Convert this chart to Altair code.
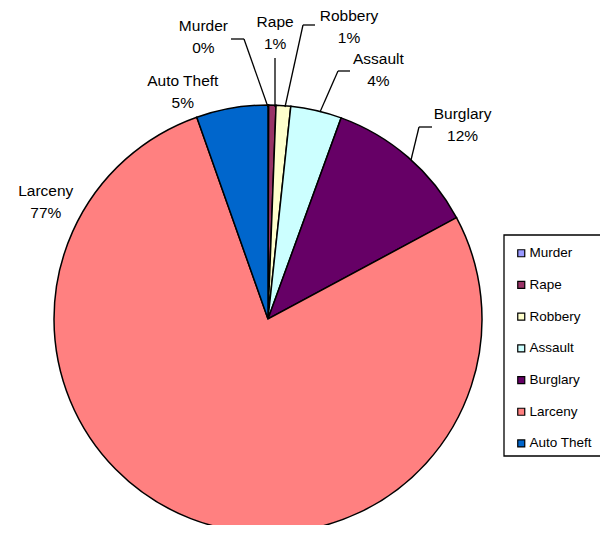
import math
import altair as alt
import pandas as pd

# ---- data ----
categories = ["Murder", "Rape", "Robbery", "Assault", "Burglary", "Larceny", "Auto Theft"]
shares = [0.05, 0.55, 1.1, 3.85, 11.6, 77.45, 5.4]
colors = ["#9999FF", "#993366", "#FFFFCC", "#CCFFFF", "#660066", "#FF8080", "#0066CC"]

total = sum(shares)
pct_labels = [f"{round(v / total * 100)}%" for v in shares]

df = pd.DataFrame({
    "crime": categories,
    "share": shares,
    "order": list(range(len(categories))),
    "pct": pct_labels,
})

# ---- layout / style constants ----
CX, CY, R = 260, 311, 214
LABEL_R = 250
FONT = "Liberation Sans"

theta_scale = alt.Scale(domain=[0, total], range=[0, 2 * math.pi])

base = alt.Chart(df).transform_window(
    cum="sum(share)", sort=[alt.SortField("order")], frame=[None, 0]
).transform_calculate(
    start="datum.cum - datum.share",
    mid="datum.cum - datum.share / 2",
    lbl="datum.crime + '\\n' + datum.pct",
)

pie = base.mark_arc(outerRadius=R, stroke="black", strokeWidth=1.5).encode(
    theta=alt.Theta("start:Q", scale=theta_scale, stack=None),
    theta2="cum:Q",
    color=alt.Color(
        "crime:N",
        scale=alt.Scale(domain=categories, range=colors),
        legend=alt.Legend(
            title=None,
            orient="none",
            legendX=496.5,
            legendY=228.5,
            padding=10,
            rowPadding=16.7,
            labelFont=FONT,
            labelFontSize=13.5,
            labelColor="black",
            labelOffset=1.5,
            symbolType="square",
            symbolSize=49,
            symbolStrokeColor="black",
            symbolStrokeWidth=1.2,
            symbolOpacity=1,
        ),
    ),
    order=alt.Order("order:Q"),
    x=alt.value(CX),
    y=alt.value(CY),
)

# label nudges (dx, dy) from the radial anchor
nudges = {
    "Murder": (-65, -43),
    "Rape": (2, -47),
    "Robbery": (63, -54),
    "Assault": (54, -16),
    "Burglary": (31, -16),
    "Larceny": (-132, -361),
    "Auto Theft": (-43, 8),
}

texts = []
for c in categories:
    dx, dy = nudges[c]
    texts.append(
        base.transform_filter(alt.datum.crime == c).mark_text(
            radius=LABEL_R, dx=dx, dy=dy, font=FONT, fontSize=15.5,
            lineHeight=22, lineBreak="\n", align="center", baseline="middle",
            color="black",
        ).encode(
            theta=alt.Theta("mid:Q", scale=theta_scale, stack=None),
            text="lbl:N",
            x=alt.value(CX),
            y=alt.value(CY),
        )
    )

one = pd.DataFrame({"k": [0]})

# leader line segments (decoration)
segments = [
    (223, 31, 236, 31), (236, 31, 260, 99),
    (267, 50, 267, 99),
    (307, 17, 295, 17), (295, 17, 277, 99),
    (342, 63, 330, 63), (330, 63, 312, 104),
    (424, 119, 411, 119), (411, 119, 403, 152),
]
rules = [
    alt.Chart(one).mark_rule(color="black", strokeWidth=1.3).encode(
        x=alt.value(a), y=alt.value(b), x2=alt.value(c), y2=alt.value(d)
    )
    for a, b, c, d in segments
]

legend_box = alt.Chart(one).mark_rect(fill="white", stroke="black", strokeWidth=1.3).encode(
    x=alt.value(496), x2=alt.value(597), y=alt.value(227), y2=alt.value(448)
)

chart = alt.layer(pie, *rules, *texts, legend_box).properties(
    width=592,
    height=517,
    padding=0,
    autosize=alt.AutoSizeParams(type="none"),
    background="white",
).configure_view(stroke=None)

chart.save("out.html", embed_options={"renderer": "svg", "actions": False})
